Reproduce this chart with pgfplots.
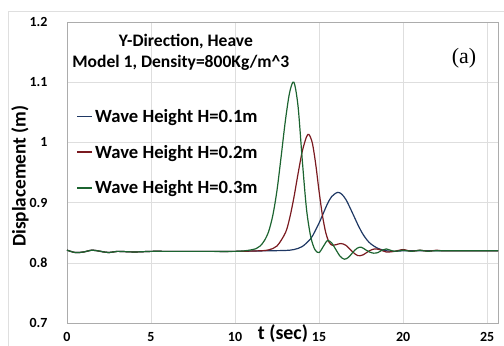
\documentclass[border=0pt]{standalone}
\usepackage{pgfplots}
\pgfplotsset{compat=1.18}
\usepackage{fontspec}
\setmainfont{Carlito}
\newfontfamily\seriffont{Liberation Serif}
\definecolor{cblue}{RGB}{31,56,100}
\definecolor{cred}{RGB}{122,26,32}
\definecolor{cgreen}{RGB}{28,100,48}
\definecolor{gridc}{RGB}{222,222,222}
\begin{document}
\begin{tikzpicture}[x=1bp,y=1bp]
\path[use as bounding box] (0,0) rectangle (504,345);
\draw[gray!25, line width=0.8bp] (8,-5) -- (8,334) -- (520,334);
\begin{axis}[
  at={(67bp,22bp)}, anchor=south west,
  scale only axis, width=431bp, height=301bp,
  xmin=0, xmax=25.65, ymin=0.7, ymax=1.2,
  xtick={0,5,10,15,20,25}, ytick={0.7,0.8,0.9,1,1.1,1.2},
  yticklabels={0.7,0.8,0.9,1,1.1,1.2},
  major tick length=0pt,
  grid=major, major grid style={gridc, line width=0.6bp},
  axis line style={gray!65, line width=0.8bp},
  tick label style={font=\fontsize{14}{15}\selectfont\bfseries},
  /pgf/number format/assume math mode=true,
  xticklabel style={yshift=-6bp},
  yticklabel style={xshift=-16bp},
  xlabel={t (sec)},
  xlabel style={at={(axis description cs:0.501,0)}, anchor=center, yshift=-11bp, font=\fontsize{20}{22}\selectfont\bfseries},
  ylabel={Displacement (m)},
  ylabel style={at={(axis description cs:-0.109,0.488)}, anchor=center, rotate=0, font=\fontsize{19.4}{21}\selectfont\bfseries},
  legend style={at={(axis description cs:0.022,0.717)}, anchor=north west, draw=none, fill=none,
    font=\fontsize{18.7}{20}\selectfont\bfseries, row sep=17bp, inner sep=0pt},
  legend cell align=left,
  legend image code/.code={\draw[#1, line width=1.5bp] (0bp,0bp) -- (15bp,0bp);},
  clip=false,
]
\addplot[cblue, line width=1.2bp, smooth] coordinates {
(0,0.821) (0.5,0.817) (1,0.818) (1.5,0.821) (2,0.819) (2.5,0.817) (3,0.819) (4,0.818) (5,0.819) (6,0.819) (8,0.819) (10,0.819) (12,0.82) (13,0.8205) (13.5,0.822) (14,0.827) (14.5,0.840) (14.75,0.852) (15,0.866) (15.25,0.882) (15.5,0.898) (15.75,0.910) (16.1,0.917) (16.35,0.914) (16.6,0.905) (16.85,0.891) (17.1,0.876) (17.35,0.861) (17.6,0.848) (17.85,0.838) (18.1,0.831) (18.5,0.824) (19,0.820) (19.5,0.819) (20,0.820) (21,0.820) (22,0.82) (25.65,0.82)
};
\addlegendentry{Wave Height H=0.1m}
\addplot[cred, line width=1.2bp, smooth] coordinates {
(0,0.821) (0.5,0.817) (1,0.818) (1.5,0.821) (2,0.819) (2.5,0.817) (3,0.819) (4,0.818) (5,0.819) (6,0.819) (8,0.819) (10,0.819) (11.5,0.82) (12,0.8215) (12.5,0.828) (13,0.850) (13.25,0.874) (13.5,0.908) (13.75,0.948) (14,0.985) (14.25,1.009) (14.4,1.013) (14.6,0.999) (14.8,0.964) (15,0.919) (15.2,0.879) (15.4,0.850) (15.6,0.834) (15.8,0.829) (16.0,0.830) (16.3,0.832) (16.6,0.829) (17.0,0.818) (17.3,0.812) (17.6,0.813) (18.0,0.820) (18.3,0.823) (18.6,0.822) (19.0,0.818) (19.5,0.819) (20,0.822) (20.5,0.819) (21,0.821) (21.5,0.819) (22,0.821) (22.5,0.82) (25.65,0.82)
};
\addlegendentry{Wave Height H=0.2m}
\addplot[cgreen, line width=1.2bp, smooth] coordinates {
(0,0.821) (0.5,0.817) (1,0.818) (1.5,0.821) (2,0.819) (2.5,0.817) (3,0.819) (4,0.818) (5,0.819) (6,0.819) (8,0.819) (10,0.819) (10.75,0.8205) (11.25,0.8235) (11.5,0.828) (11.75,0.837) (12,0.852) (12.25,0.879) (12.5,0.921) (12.75,0.978) (13,1.037) (13.25,1.083) (13.5,1.10) (13.75,1.06) (14,0.971) (14.25,0.890) (14.5,0.844) (14.75,0.822) (15,0.817) (15.25,0.827) (15.5,0.837) (15.75,0.833) (16,0.822) (16.25,0.811) (16.5,0.806) (16.75,0.809) (17,0.817) (17.25,0.824) (17.5,0.826) (17.75,0.822) (18,0.818) (18.25,0.816) (18.5,0.817) (18.75,0.821) (19,0.823) (19.5,0.819) (20,0.821) (20.5,0.819) (21,0.821) (21.5,0.819) (22,0.82) (25.65,0.82)
};
\addlegendentry{Wave Height H=0.3m}
\node[font=\fontsize{17.6}{19}\selectfont\bfseries, anchor=center] at (axis description cs:0.276,0.934) {Y-Direction, Heave};
\node[font=\fontsize{17.6}{19}\selectfont\bfseries, anchor=west, inner sep=0pt] at (axis description cs:0.012,0.865) {Model 1, Density=800Kg/m\^{}3};
\node[font=\fontsize{22}{24}\selectfont\seriffont, anchor=center] at (axis description cs:0.921,0.881) {(a)};
\end{axis}
\end{tikzpicture}
\end{document}
